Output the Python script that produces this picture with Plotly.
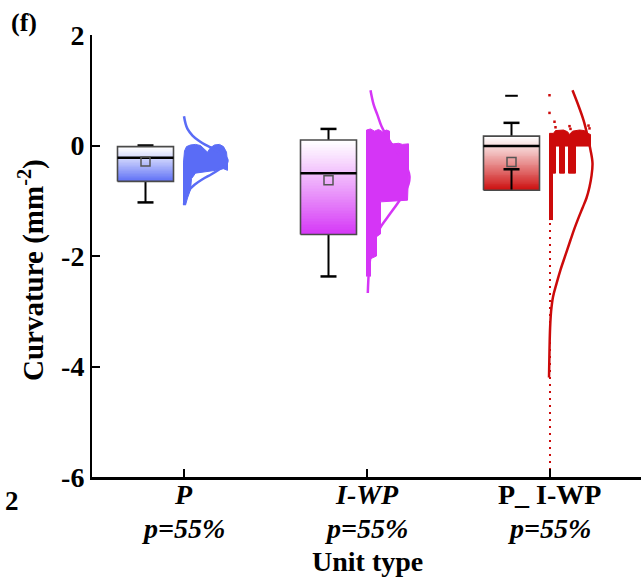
import plotly.graph_objects as go

# ---------------- data ----------------
categories = ["P", "I-WP", "P_ I-WP"]
label_row1 = ["<b><i>P</i></b>", "<b><i>I-WP</i></b>", "<b>P_ I-WP</b>"]
label_row2 = ["<b><i>p=55%</i></b>", "<b><i>p=55%</i></b>", "<b><i>p=55%</i></b>"]
y_ticks = [2, 0, -2, -4, -6]
y_tick_text = ["2", "0", "-2", "-4", "-6"]

q1 = [-0.65, -1.61, -0.81]
median = [-0.22, -0.50, -0.01]
q3 = [-0.02, 0.10, 0.17]
whisk_low = [-1.03, -2.37, -0.43]
whisk_high = [0.00, 0.30, 0.41]
means = [-0.29, -0.63, -0.30]
outliers = [[], [], [0.90]]
colors = ["#5a6cf6", "#d535f6", "#cc0a0a"]

# density curves (relative width in screen px, value)
curve_P_w = [0.5, 2, 4, 9, 15, 22, 30, 38, 43, 44, 42, 36, 28, 19, 11, 5, 2, 0.5]
curve_P_y = [0.53, 0.40, 0.30, 0.18, 0.09, 0.01, -0.06, -0.15, -0.23, -0.28, -0.35, -0.43, -0.52, -0.61, -0.71, -0.82, -0.93, -1.07]
curve_IWP_w = [4, 7, 11, 15, 20, 25, 31, 37, 41, 43, 42, 38, 31, 23, 15, 9, 5, 2.5, 1.3]
curve_IWP_y = [1.00, 0.75, 0.55, 0.35, 0.18, 0.03, -0.12, -0.28, -0.42, -0.56, -0.70, -0.86, -1.05, -1.25, -1.45, -1.65, -1.89, -2.25, -2.67]
curve_PIWP_w = [23, 29, 34, 38, 41, 43, 42, 40, 37, 33, 29, 25, 21, 16, 11, 7, 3.5, 1.6, 0.6, 0.0, -0.5]
curve_PIWP_y = [1.00, 0.72, 0.46, 0.18, -0.08, -0.32, -0.55, -0.75, -0.95, -1.13, -1.31, -1.50, -1.71, -1.98, -2.25, -2.50, -2.74, -3.00, -3.30, -3.70, -4.20]
curves_w = [curve_P_w, curve_IWP_w, curve_PIWP_w]
curves_y = [curve_P_y, curve_IWP_y, curve_PIWP_y]

# dense point clouds (outline: width px, value)
cloud_P_w = [0, 0, 1, 3, 7, 12, 17, 21, 24, 27, 31, 36, 40, 43, 44, 44, 40, 32, 22, 12, 8, 7, 4, 2]
cloud_P_y = [-1.08, -0.3, -0.1, -0.02, 0.01, 0.02, 0.0, -0.06, -0.12, -0.04, 0.01, 0.02, -0.02, -0.12, -0.3, -0.45, -0.42, -0.45, -0.48, -0.5, -0.6, -0.8, -0.95, -1.08]
cloud_IWP_w = [0, 0, 4, 8, 12, 16, 20, 23, 23, 27, 32, 36, 42, 42, 41, 30, 14, 14, 10, 10, 4, 4]
cloud_IWP_y = [-2.37, 0.28, 0.30, 0.26, 0.29, 0.25, 0.28, 0.26, 0.05, 0.03, 0.04, 0.02, 0.03, -0.5, -0.99, -1.0, -1.02, -1.6, -1.65, -2.0, -2.05, -2.37]
cloud_PIWP_w = [0, 0, 4, 6, 14, 18, 20, 23, 30, 35, 38, 41, 41, 26, 26, 19, 19, 15, 15, 10, 10, 6, 6, 3, 3]
cloud_PIWP_y = [-1.35, 0.22, 0.22, 0.27, 0.28, 0.25, 0.20, 0.26, 0.28, 0.27, 0.22, 0.20, -0.01, -0.01, -0.5, -0.5, -0.01, -0.01, -0.5, -0.5, -0.01, -0.01, -0.5, -0.5, -1.35]
clouds_w = [cloud_P_w, cloud_IWP_w, cloud_PIWP_w]
clouds_y = [cloud_P_y, cloud_IWP_y, cloud_PIWP_y]

# sparse single points of the last group (width px, value)
sparse_w = [0, 0, 5, 6, 20, 21, 39, 40]
sparse_y = [0.91, 0.59, 0.43, 0.33, 0.35, 0.30, 0.36, 0.31]
tail_y = [-6.0, -0.5]   # thin dotted tail of single points

# ---------------- geometry ----------------
W, H = 643, 579
ML, MR, MT, MB = 92, 2, 35, 102
XR = [-0.5, 2.5]
PW = W - ML - MR
UPX = (XR[1] - XR[0]) / PW          # data units per screen px
box_off = -38 * UPX
box_w = 56 * UPX
cap_w = 16 * UPX
FONT = "Liberation Serif"

def rgb(h):
    h = h.lstrip("#")
    return [int(h[i:i + 2], 16) for i in (0, 2, 4)]

fig = go.Figure()
N = 60
for i in range(3):
    xc = i + box_off
    c = rgb(colors[i])
    # gradient fill
    step = (q3[i] - q1[i]) / N
    bases, heights, cols = [], [], []
    for k in range(N):
        b = q1[i] + k * step
        t = 1 - (k + 0.5) / N          # 1 at bottom -> 0 at top
        t = t ** 1.1
        r = [round(255 + (cc - 255) * t) for cc in c]
        bases.append(b)
        heights.append(step * 1.02)
        cols.append(f"rgb({r[0]},{r[1]},{r[2]})")
    fig.add_trace(go.Bar(x=[xc] * N, y=heights, base=bases, width=box_w,
                         marker=dict(color=cols, line=dict(width=0)),
                         hoverinfo="skip", showlegend=False))
    l, r_ = xc - box_w / 2, xc + box_w / 2
    # whiskers
    for wv, qv in ((whisk_high[i], q3[i]), (whisk_low[i], q1[i])):
        fig.add_trace(go.Scatter(x=[xc, xc], y=[qv, wv], mode="lines",
                                 line=dict(color="black", width=2), showlegend=False))
        fig.add_trace(go.Scatter(x=[xc - cap_w / 2, xc + cap_w / 2], y=[wv, wv], mode="lines",
                                 line=dict(color="black", width=2.5), showlegend=False))
    # box outline
    fig.add_trace(go.Scatter(x=[l, r_, r_, l, l], y=[q1[i], q1[i], q3[i], q3[i], q1[i]],
                             mode="lines", line=dict(color="#4a4a4a", width=1.6), showlegend=False))
    # median
    fig.add_trace(go.Scatter(x=[l, r_], y=[median[i], median[i]], mode="lines",
                             line=dict(color="black", width=2.5), showlegend=False))
    # mean
    fig.add_trace(go.Scatter(x=[xc], y=[means[i]], mode="markers",
                             marker=dict(symbol="square-open", size=9, color="#555555",
                                         line=dict(width=1.5, color="#555555")), showlegend=False))
    if outliers[i]:
        fig.add_trace(go.Scatter(x=[xc] * len(outliers[i]), y=outliers[i], mode="markers",
                                 marker=dict(symbol="line-ew-open", size=9, color="black",
                                             line=dict(width=2, color="black")), showlegend=False))
    # cloud
    fig.add_trace(go.Scatter(x=[i + w * UPX for w in clouds_w[i]], y=clouds_y[i],
                             mode="lines", fill="toself", fillcolor=colors[i],
                             line=dict(color=colors[i], width=1), showlegend=False))
    # density curve
    fig.add_trace(go.Scatter(x=[i + w * UPX for w in curves_w[i]], y=curves_y[i],
                             mode="lines", line=dict(color=colors[i], width=2.5, shape="spline"),
                             showlegend=False))

# sparse points / tail of third group
fig.add_trace(go.Scatter(x=[2 + w * UPX for w in sparse_w], y=sparse_y, mode="markers",
                         marker=dict(symbol="square", size=2.5, color=colors[2]), showlegend=False))
fig.add_trace(go.Scatter(x=[2 + 0.5 * UPX] * 2, y=tail_y, mode="lines",
                         line=dict(color=colors[2], width=2, dash="2px,5px"), showlegend=False))

def px_x(p):
    return (p - ML) / PW

def px_y(p):
    return 1 - (p - MT) / (H - MT - MB)

ann = [
    dict(text="<b>(f)</b>", x=px_x(24), y=px_y(22), size=26),
    dict(text="<b>2</b>", x=px_x(12), y=px_y(501), size=27),
    dict(text="<b>Unit type</b>", x=px_x(367), y=px_y(561), size=28),
    dict(text="<b>Curvature (mm<sup>-2</sup>)</b>", x=px_x(31), y=px_y(270), size=29, angle=-90),
]
for a in ann:
    fig.add_annotation(text=a["text"], x=a["x"], y=a["y"], xref="paper", yref="paper",
                       showarrow=False, xanchor="center", yanchor="middle",
                       textangle=a.get("angle", 0),
                       font=dict(family=FONT, size=a["size"], color="black"))
# category labels (two rows under each tick)
for i in range(3):
    fig.add_annotation(text=label_row1[i], x=i, y=px_y(494), xref="x", yref="paper",
                       showarrow=False, xanchor="center", yanchor="middle",
                       font=dict(family=FONT, size=28, color="black"))
    fig.add_annotation(text=label_row2[i], x=i, y=px_y(528), xref="x", yref="paper",
                       showarrow=False, xanchor="center", yanchor="middle",
                       font=dict(family=FONT, size=28, color="black"))

fig.update_layout(
    width=W, height=H, margin=dict(l=ML, r=MR, t=MT, b=MB),
    paper_bgcolor="white", plot_bgcolor="white", barmode="overlay", bargap=0,
    font=dict(family=FONT, color="black"),
    showlegend=False,
)
fig.update_xaxes(range=XR, tickmode="array", tickvals=[0, 1, 2], showticklabels=False,
                 showline=True, linecolor="black", linewidth=3, showgrid=False, zeroline=False,
                 ticks="inside", ticklen=8, tickwidth=2, tickcolor="black")
fig.update_yaxes(range=[-6, 2], tickmode="array", tickvals=y_ticks, ticktext=[f"<b>{t}</b>" for t in y_tick_text],
                 showline=True, linecolor="black", linewidth=2, showgrid=False, zeroline=False,
                 ticks="inside", ticklen=8, tickwidth=2, tickcolor="black",
                 tickfont=dict(family=FONT, size=28, color="black"))

fig.write_html("out.html")
